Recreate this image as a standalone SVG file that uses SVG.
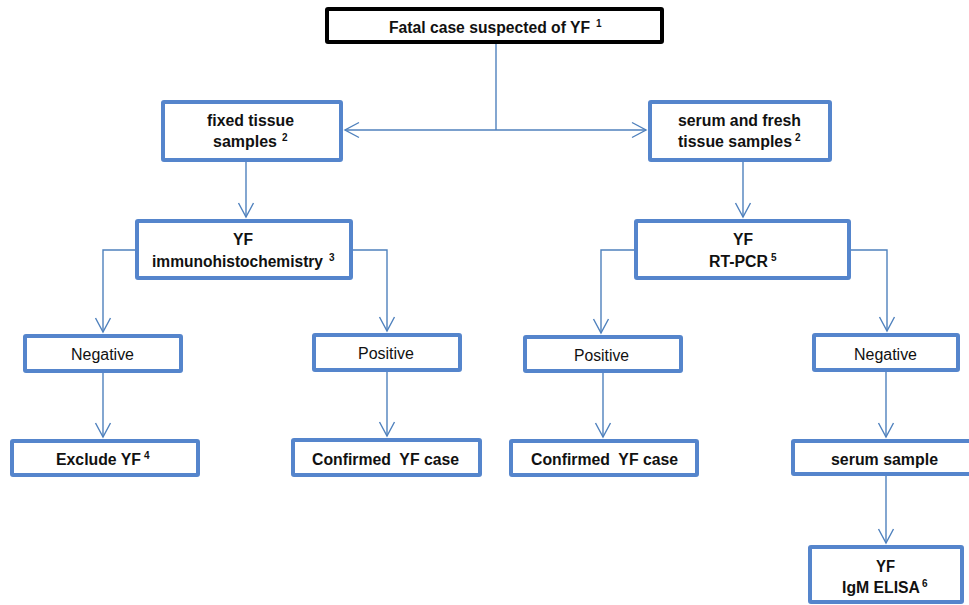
<svg xmlns="http://www.w3.org/2000/svg" width="969" height="605" viewBox="0 0 969 605">
<defs>
<style>
.box{fill:#fff;stroke:#5585CC;stroke-width:4}
.top{fill:#fff;stroke:#000;stroke-width:4}
.c{fill:none;stroke:#4F81BD;stroke-width:1.4}
text{font-family:"Liberation Sans",Arial,sans-serif;fill:#111}
.b{font-size:16px;font-weight:bold}
.r{font-size:16px}
.s{font-size:10px;font-weight:bold}
</style>
<marker id="a" viewBox="-16 -9 18 18" markerWidth="18" markerHeight="18" refX="0" refY="0" orient="auto" markerUnits="userSpaceOnUse">
<path d="M-14,-7.5 L0,0 L-14,7.5" fill="none" stroke="#4F81BD" stroke-width="1.4"/>
</marker>
</defs>
<rect width="969" height="605" fill="#fff"/>
<g id="connectors">
<path class="c" d="M496,44 V130"/>
<path class="c" d="M496,130 H345" marker-end="url(#a)"/>
<path class="c" d="M496,130 H646" marker-end="url(#a)"/>
<path class="c" d="M246,162 V217" marker-end="url(#a)"/>
<path class="c" d="M743,162 V217" marker-end="url(#a)"/>
<path class="c" d="M135,250 H103 V332" marker-end="url(#a)"/>
<path class="c" d="M353,250 H387 V331" marker-end="url(#a)"/>
<path class="c" d="M103,373 V437" marker-end="url(#a)"/>
<path class="c" d="M387,372 V436" marker-end="url(#a)"/>
<path class="c" d="M634,250 H601 V333" marker-end="url(#a)"/>
<path class="c" d="M851,250 H887 V331" marker-end="url(#a)"/>
<path class="c" d="M603,373 V437" marker-end="url(#a)"/>
<path class="c" d="M886,372 V437" marker-end="url(#a)"/>
<path class="c" d="M886,476 V543" marker-end="url(#a)"/>
</g>
<g id="n-fatal">
<rect class="top" x="327" y="9" width="335" height="33" rx="1"/>
<text class="b" x="389" y="33" textLength="201" lengthAdjust="spacingAndGlyphs">Fatal case suspected of YF</text>
<text class="s" x="596" y="27">1</text>
</g>
<g id="n-fixed">
<rect class="box" x="163" y="102" width="178" height="58" rx="1"/>
<text class="b" x="207" y="126" textLength="87" lengthAdjust="spacingAndGlyphs">fixed tissue</text>
<text class="b" x="213" y="147" textLength="64" lengthAdjust="spacingAndGlyphs">samples</text>
<text class="s" x="282" y="141">2</text>
</g>
<g id="n-serumfresh">
<rect class="box" x="650" y="102" width="180" height="58" rx="1"/>
<text class="b" x="678" y="126" textLength="123" lengthAdjust="spacingAndGlyphs">serum and fresh</text>
<text class="b" x="678" y="147" textLength="114" lengthAdjust="spacingAndGlyphs">tissue samples</text>
<text class="s" x="795" y="141">2</text>
</g>
<g id="n-ihc">
<rect class="box" x="137" y="221" width="214" height="57" rx="1"/>
<text class="b" x="233" y="245" textLength="20" lengthAdjust="spacingAndGlyphs">YF</text>
<text class="b" x="152" y="267" textLength="171" lengthAdjust="spacingAndGlyphs">immunohistochemistry</text>
<text class="s" x="329" y="261">3</text>
</g>
<g id="n-rtpcr">
<rect class="box" x="636" y="221" width="213" height="57" rx="1"/>
<text class="b" x="733" y="245" textLength="20" lengthAdjust="spacingAndGlyphs">YF</text>
<text class="b" x="709" y="267" textLength="59" lengthAdjust="spacingAndGlyphs">RT-PCR</text>
<text class="s" x="771" y="261">5</text>
</g>
<g id="n-neg-left">
<rect class="box" x="25" y="336" width="156" height="35" rx="1"/>
<text class="r" x="71" y="360" textLength="63" lengthAdjust="spacingAndGlyphs">Negative</text>
</g>
<g id="n-pos-left">
<rect class="box" x="314" y="335" width="146" height="35" rx="1"/>
<text class="r" x="358" y="359" textLength="56" lengthAdjust="spacingAndGlyphs">Positive</text>
</g>
<g id="n-pos-right">
<rect class="box" x="525" y="337" width="156" height="34" rx="1"/>
<text class="r" x="574" y="361" textLength="55" lengthAdjust="spacingAndGlyphs">Positive</text>
</g>
<g id="n-neg-right">
<rect class="box" x="814" y="335" width="144" height="35" rx="1"/>
<text class="r" x="854" y="360" textLength="63" lengthAdjust="spacingAndGlyphs">Negative</text>
</g>
<g id="n-exclude">
<rect class="box" x="12" y="441" width="186" height="34" rx="1"/>
<text class="b" x="56" y="465" textLength="85" lengthAdjust="spacingAndGlyphs">Exclude YF</text>
<text class="s" x="144" y="459">4</text>
</g>
<g id="n-confirmed-left">
<rect class="box" x="293" y="440" width="187" height="35" rx="1"/>
<text class="b" x="312" y="465" textLength="147" lengthAdjust="spacingAndGlyphs" xml:space="preserve">Confirmed  YF case</text>
</g>
<g id="n-confirmed-right">
<rect class="box" x="511" y="441" width="186" height="34" rx="1"/>
<text class="b" x="531" y="465" textLength="147" lengthAdjust="spacingAndGlyphs" xml:space="preserve">Confirmed  YF case</text>
</g>
<g id="n-serum">
<rect class="box" x="793" y="441" width="190" height="33" rx="1"/>
<text class="b" x="831" y="465" textLength="107" lengthAdjust="spacingAndGlyphs">serum sample</text>
</g>
<g id="n-igm">
<rect class="box" x="810" y="547" width="152" height="55" rx="1"/>
<text class="b" x="876" y="572" textLength="19" lengthAdjust="spacingAndGlyphs">YF</text>
<text class="b" x="842" y="593" textLength="78" lengthAdjust="spacingAndGlyphs">IgM ELISA</text>
<text class="s" x="922" y="587">6</text>
</g>
</svg>
